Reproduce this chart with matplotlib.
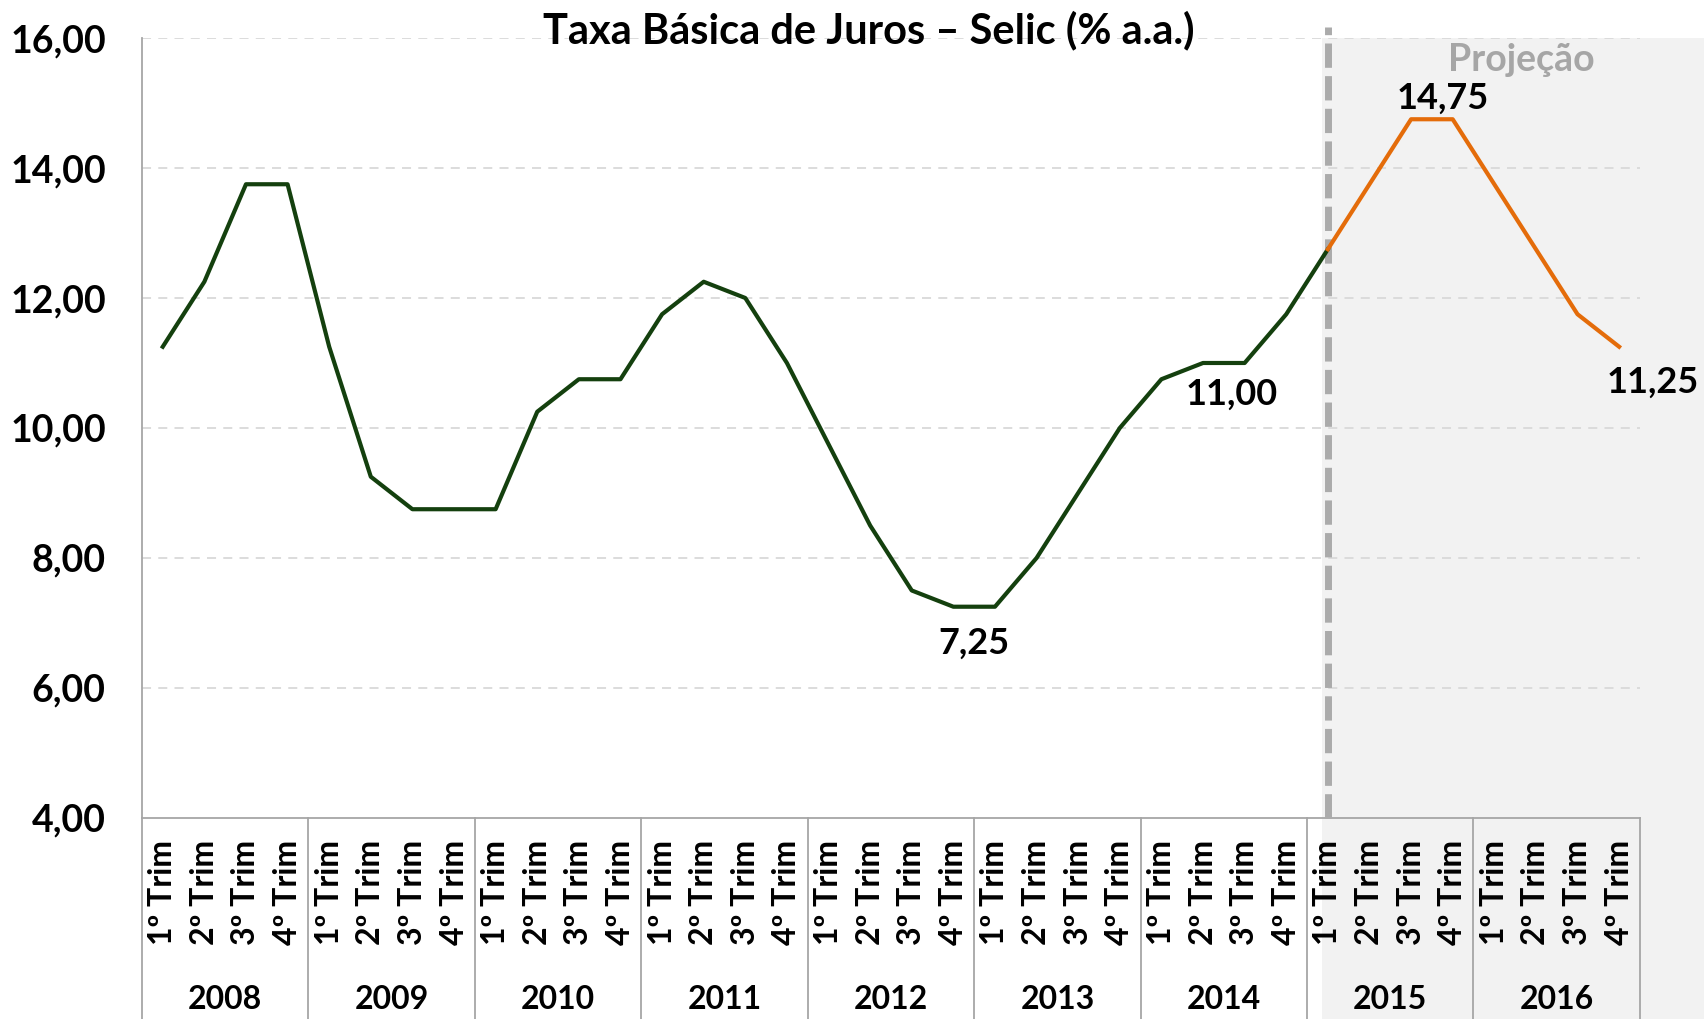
import matplotlib
matplotlib.use("Agg")
import matplotlib.pyplot as plt
from matplotlib.patches import Rectangle
import numpy as np

plt.rcParams['font.family'] = ['Lato', 'DejaVu Sans']

years = ["2008", "2009", "2010", "2011", "2012", "2013", "2014", "2015", "2016"]
quarters = ["1º Trim", "2º Trim", "3º Trim", "4º Trim"]
selic = [11.25, 12.25, 13.75, 13.75,
         11.25, 9.25, 8.75, 8.75,
         8.75, 10.25, 10.75, 10.75,
         11.75, 12.25, 12.00, 11.00,
         9.75, 8.50, 7.50, 7.25,
         7.25, 8.00, 9.00, 10.00,
         10.75, 11.00, 11.00, 11.75,
         12.75, 13.75, 14.75, 14.75,
         13.75, 12.75, 11.75, 11.25]
proj_start = 28  # 1º Trim 2015
labels = [(19.5, 6.69, "7,25"), (25.7, 10.52, "11,00"),
          (30.75, 15.08, "14,75"), (35.8, 10.71, "11,25")]

green = "#14400e"
orange = "#e46c0a"

fig = plt.figure(figsize=(17.04, 10.19), dpi=100)
ax = fig.add_axes([0.0833, 0.1973, 0.8791, 0.7654])

x = np.arange(len(selic))
ax.plot(x[:proj_start + 1], selic[:proj_start + 1], color=green, lw=3, zorder=4)
ax.plot(x[proj_start:], selic[proj_start:], color=orange, lw=3, zorder=4)

ax.set_xlim(-0.5, len(selic) - 0.5)
ax.set_ylim(4, 16)
ax.set_yticks(np.arange(4, 17, 2))
ax.set_yticklabels([f"{v:.2f}".replace(".", ",") for v in np.arange(4, 17, 2)],
                   fontsize=27, fontweight="bold")
for v in np.arange(6, 17, 2):
    ax.axhline(v, color="#d9d9d9", lw=1.3, ls=(0, (5, 4)), zorder=1)

# projection shading
tr = ax.get_xaxis_transform()
ax.add_patch(Rectangle((proj_start - 0.15, -0.4), 20, 1.4, transform=tr,
                       facecolor="#f2f2f2", edgecolor="none", zorder=0, clip_on=False))
ax.plot([proj_start, proj_start], [0, 1.014], transform=tr, color="#ababab", lw=5,
        ls=(0, (3.5, 1.2)), clip_on=False, zorder=3)
ax.text(32.65, 15.66, "Projeção", color="#a6a6a6", fontsize=27, fontweight="bold",
        ha="center", va="center", zorder=5)

# x axis categories
ax.set_xticks(x)
ax.set_xticklabels(quarters * len(years), rotation=90, fontsize=23, fontweight="bold")
ax.tick_params(axis="x", length=0, pad=16)
ax.tick_params(axis="y", length=0, pad=26)
for k in range(len(years) + 1):
    ax.plot([k * 4 - 0.5] * 2, [0, -0.3], transform=tr, color="#a6a6a6", lw=1.3,
            clip_on=False, zorder=2)
for k, yr in enumerate(years):
    ax.text(k * 4 + 1.5, -0.233, yr, transform=tr, ha="center", va="center",
            fontsize=23, fontweight="bold")

for xi, yi, s in labels:
    ax.text(xi, yi, s, ha="center", va="center", fontsize=26, fontweight="bold", zorder=5)

for side in ["top", "right"]:
    ax.spines[side].set_visible(False)
for side in ["left", "bottom"]:
    ax.spines[side].set_color("#a6a6a6")
    ax.spines[side].set_linewidth(1.3)
ax.set_facecolor("none")

fig.text(0.51, 0.97, "Taxa Básica de Juros – Selic (% a.a.)", ha="center", va="center",
         fontsize=30, fontweight="bold")

fig.savefig("out.png", dpi=100)
